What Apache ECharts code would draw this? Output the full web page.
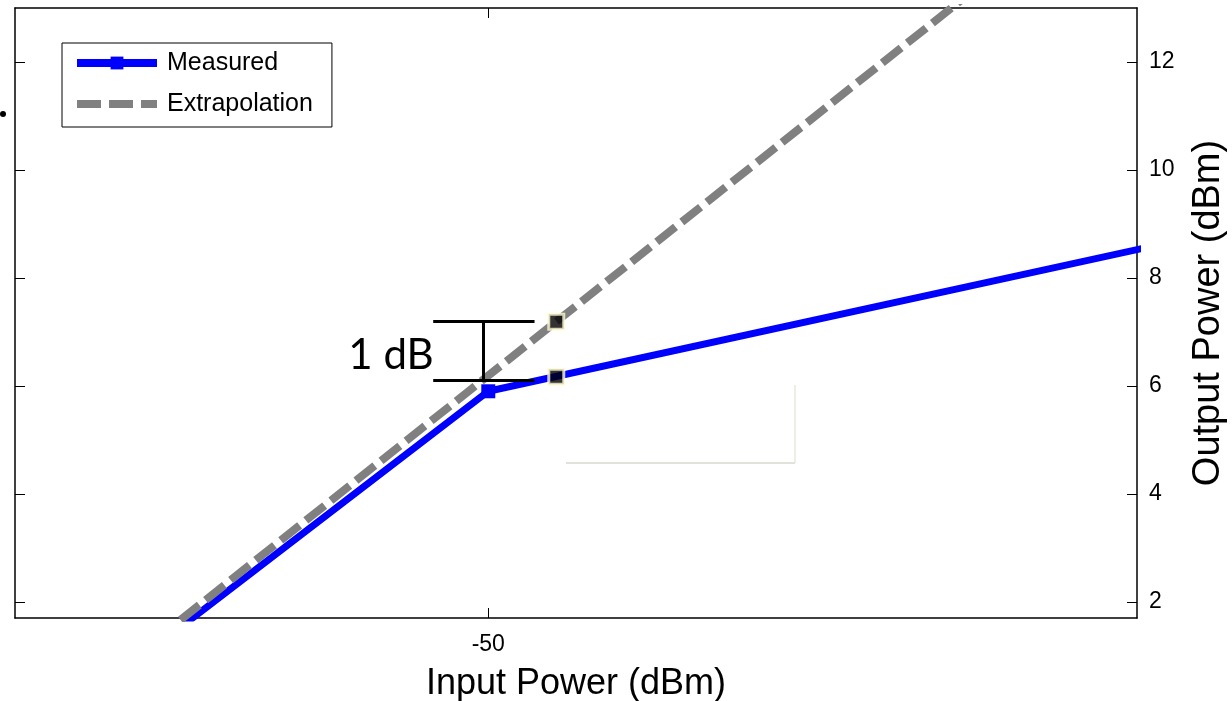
<!DOCTYPE html>
<html>
<head>
<meta charset="utf-8">
<script src="https://cdn.jsdelivr.net/npm/echarts@6/dist/echarts.min.js"></script>
<style>
html,body{margin:0;padding:0;background:#fff;overflow:hidden;width:1232px;height:701px;}
#chart{width:1232px;height:701px;overflow:hidden;}
</style>
</head>
<body>
<div id="chart"></div>
<script>
// ---- data ----
const measuredIn = [-55, -50, -40];
const measuredOut = [1.07, 5.9, 8.65];
const extrapIn = [-56, -42];
const extrapOut = [0.19, 14.19];
const compIn = [-49, -49];
const compOut = [7.19, 6.17];
const xTicks = [-50];
const yTicks = [2, 4, 6, 8, 10, 12];
const gainBar = { xLeft: -50.81, xRight: -49.32, xMid: -50.07, yTop: 7.19, yBottom: 6.11 };
const gainLabel = { x: -51.43, y: 6.57, text: '1 dB' };
const seriesNames = ['Measured', 'Extrapolation'];

const FONT = '"Liberation Sans", Arial, sans-serif';
const zip = (a, b) => a.map((v, i) => [v, b[i]]);

const chart = echarts.init(document.getElementById('chart'), null, { width: 1232, height: 701 });

const baseX = {
  type: 'value', min: -56.96, max: -40.46,
  splitLine: { show: false },
  axisLine: { show: true, onZero: false, lineStyle: { color: '#000', width: 1.5 } },
  axisTick: { show: true, inside: true, length: 10, customValues: xTicks, lineStyle: { color: '#000', width: 1 } },
  axisLabel: { show: false, customValues: xTicks }
};
const baseY = {
  type: 'value', min: 1.7, max: 13,
  splitLine: { show: false },
  axisLine: { show: true, onZero: false, lineStyle: { color: '#000', width: 1.5 } },
  axisTick: { show: true, inside: true, length: 10, customValues: yTicks, lineStyle: { color: '#000', width: 1 } },
  axisLabel: { show: false, customValues: yTicks }
};

chart.setOption({
  animation: false,
  backgroundColor: '#fff',
  grid: { left: 15, right: 95, top: 8, bottom: 83, containLabel: false, outerBoundsMode: 'none' },
  legend: {
    data: [
      { name: seriesNames[0], lineStyle: { width: 8, color: '#0000ff' }, itemStyle: { color: '#0000ff' } },
      { name: seriesNames[1], lineStyle: { width: 8, color: '#808080', type: [24, 8] }, itemStyle: { opacity: 0 } }
    ],
    orient: 'vertical',
    left: 62, top: 43,
    padding: [6, 19, 9, 11],
    itemWidth: 80, itemHeight: 16, itemGap: 13,
    borderColor: '#000', borderWidth: 1,
    backgroundColor: '#fff',
    textStyle: { fontFamily: FONT, fontSize: 25, color: '#000', lineHeight: 28, padding: [0, 0, 0, 5] }
  },
  xAxis: [
    Object.assign({}, baseX, {
      position: 'bottom',
      name: 'Input Power (dBm)', nameLocation: 'middle', nameGap: 48,
      nameTextStyle: { fontFamily: FONT, fontSize: 36, color: '#000' },
      axisLabel: { show: true, customValues: xTicks, margin: 15, fontFamily: FONT, fontSize: 23, color: '#000' }
    }),
    Object.assign({}, baseX, { position: 'top' })
  ],
  yAxis: [
    Object.assign({}, baseY, { position: 'left' }),
    Object.assign({}, baseY, {
      position: 'right',
      name: 'Output Power (dBm)', nameLocation: 'middle', nameGap: 53, nameRotate: 90,
      nameTextStyle: { fontFamily: FONT, fontSize: 38, color: '#000' },
      axisLabel: { show: true, customValues: yTicks, margin: 12, fontFamily: FONT, fontSize: 23, color: '#000' }
    })
  ],
  series: [
    {
      name: 'Extrapolation', type: 'line', xAxisIndex: 0, yAxisIndex: 1,
      data: zip(extrapIn, extrapOut),
      showSymbol: false, symbol: 'none', symbolSize: 0, clip: true,
      lineStyle: { color: '#808080', width: 8, type: [24, 8] },
      itemStyle: { color: '#808080' },
      z: 3
    },
    {
      name: 'Measured', type: 'line', xAxisIndex: 0, yAxisIndex: 1,
      data: zip(measuredIn, measuredOut),
      symbol: 'rect', symbolSize: 14, showSymbol: true, clip: true,
      lineStyle: { color: '#0000ff', width: 7 },
      itemStyle: { color: '#0000ff' },
      z: 2
    },
    {
      name: 'gain', type: 'scatter', xAxisIndex: 0, yAxisIndex: 1,
      data: zip(compIn, compOut),
      symbol: 'rect', symbolSize: 15,
      itemStyle: { color: '#000', borderColor: '#fffbd6', borderWidth: 3 },
      z: 5,
      markLine: {
        silent: true, symbol: 'none',
        lineStyle: { color: '#000', width: 3, type: 'solid' },
        label: { show: false },
        data: [
          [{ coord: [gainBar.xLeft, gainBar.yTop] }, { coord: [gainBar.xRight, gainBar.yTop] }],
          [{ coord: [gainBar.xLeft, gainBar.yBottom] }, { coord: [gainBar.xRight, gainBar.yBottom] }],
          [{ coord: [gainBar.xMid, gainBar.yTop] }, { coord: [gainBar.xMid, gainBar.yBottom] }]
        ]
      },
      markPoint: {
        silent: true, symbol: 'circle', symbolSize: 1,
        itemStyle: { color: 'rgba(0,0,0,0)' },
        label: { show: true, position: 'inside', formatter: gainLabel.text, fontFamily: 'Lato, "Open Sans", sans-serif', fontSize: 42, color: '#000' },
        data: [{ coord: [gainLabel.x, gainLabel.y] }]
      }
    }
  ],
  graphic: [
    { type: 'line', shape: { x1: 566, y1: 463, x2: 795, y2: 463 }, style: { stroke: '#e2e2da', lineWidth: 2 }, z: 1 },
    { type: 'line', shape: { x1: 795, y1: 385, x2: 795, y2: 463 }, style: { stroke: '#e8e8e2', lineWidth: 1.5 }, z: 1 },
    { type: 'circle', shape: { cx: 3, cy: 114, r: 3 }, style: { fill: '#000' } }
  ]
});
</script>
</body>
</html>
